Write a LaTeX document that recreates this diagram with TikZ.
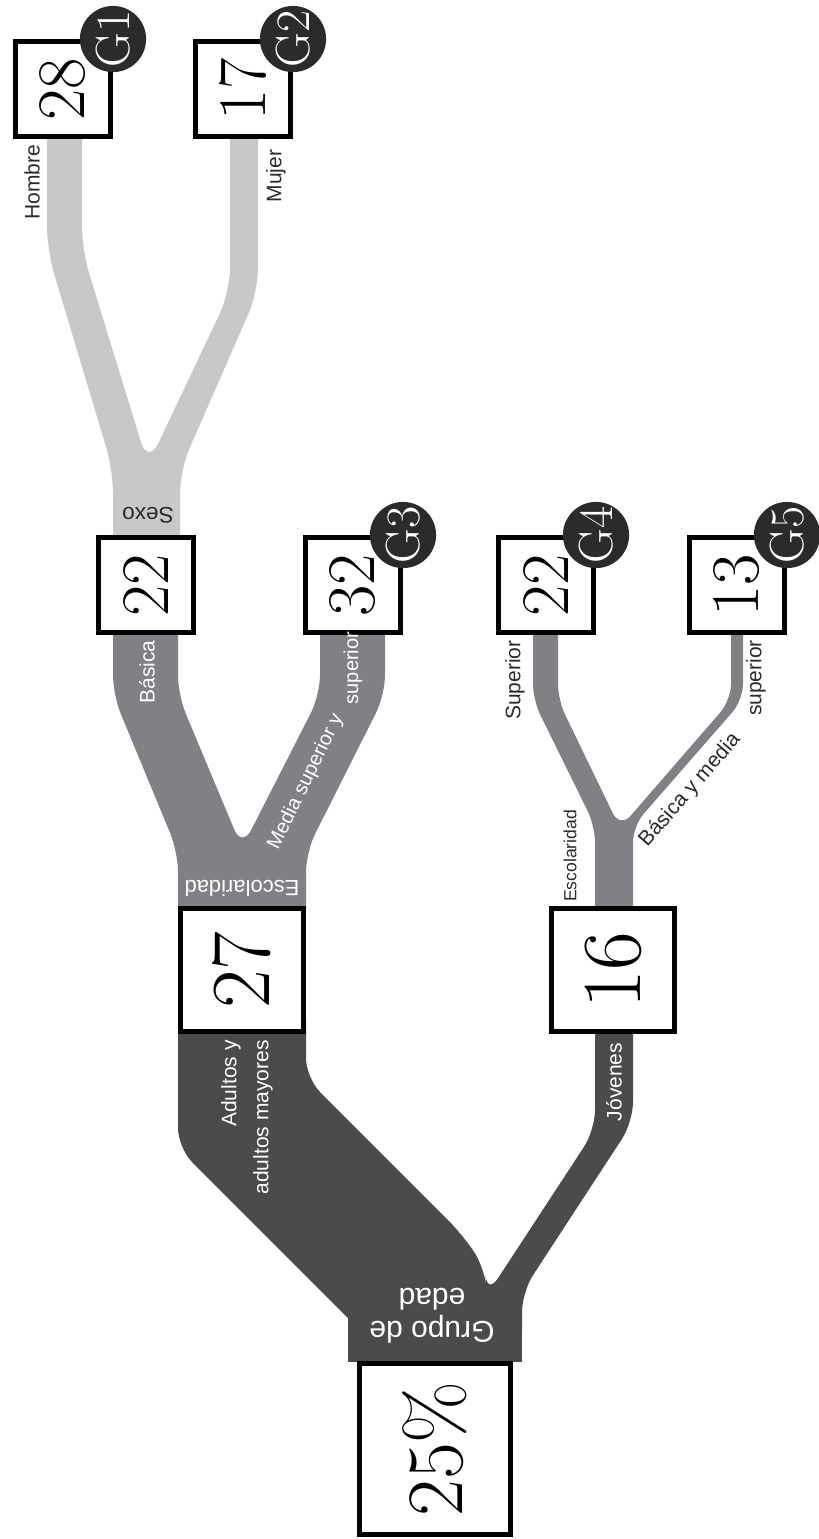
\documentclass[tikz,border=0pt]{standalone}
\usepackage{fontspec}
\usepackage{graphicx}
\newfontfamily\labelfont{Liberation Sans}
\definecolor{flowdk}{HTML}{4A4B4D}
\definecolor{flowmd}{HTML}{808184}
\definecolor{flowlt}{HTML}{C6C8CA}
\definecolor{gtagc}{HTML}{2B2A2C}
\definecolor{labk}{HTML}{2A2A2A}
\newcommand{\vnum}[1]{\rotatebox{90}{#1}}
\tikzset{
  numbox/.style={draw=black, line width=2.5pt, fill=white, inner sep=0pt,
    minimum size=47.5pt, font=\fontsize{34}{34}\selectfont},
  bigbox/.style={numbox, minimum size=61.5pt, font=\fontsize{42}{42}\selectfont},
  rootbox/.style={numbox, minimum width=75.5pt, minimum height=85.5pt,
    font=\fontsize{40}{40}\selectfont},
  gtag/.style={circle, fill=gtagc, text=white, inner sep=0pt, minimum size=33pt,
    font=\fontsize{24}{24}\selectfont},
  lab/.style={inner sep=0pt, text=labk, font=\labelfont\fontsize{10.5}{16}\selectfont},
  labw/.style={lab, text=white}
}

\begin{document}
\begin{tikzpicture}[x=0.5pt, y=-0.5pt]
  \useasboundingbox (0,0) rectangle (819,1539);

  % flows (y grows downwards)
  \fill[flowlt, rounded corners=12pt] (113,560) -- (113,470) -- (47,250) -- (47,100)
    -- (82,100) -- (82,250) -- (148,465) -- (230,292) -- (230,100) -- (258,100)
    -- (258,292) -- (180,470) -- (180,560) -- cycle;
  \fill[flowmd, rounded corners=10pt] (178,930) -- (178,852) -- (113,695) -- (113,600)
    -- (178,600) -- (178,695) -- (242,848) -- (320,695) -- (320,600) -- (385,600)
    -- (385,695) -- (306,852) -- (306,930) -- cycle;
  \fill[flowmd, rounded corners=8pt] (595,940) -- (595,826) -- (533,700) -- (533,600)
    -- (558,600) -- (558,700) -- (620,828) -- (731,700) -- (731,600) -- (743,600)
    -- (743,700) -- (633,826) -- (633,940) -- cycle;
  \fill[flowdk] (348,1297) rectangle (522,1362);
  \fill[flowdk, rounded corners=10pt] (380,1350) -- (178,1148) -- (178,1000)
    -- (306,1000) -- (306,1078) -- (462,1234) -- (485,1268) -- (487,1295)
    -- (595,1130) -- (595,1000) -- (633,1000) -- (633,1122) -- (522,1292)
    -- (522,1350) -- cycle;

  % boxes
  \node[numbox] (b28) at (63,89) {\vnum{28}};
  \node[numbox] (b17) at (243,89) {\vnum{17}};
  \node[numbox] (b22a) at (146,585) {\vnum{22}};
  \node[numbox] (b32) at (353,585) {\vnum{32}};
  \node[numbox] (b22b) at (546,585) {\vnum{22}};
  \node[numbox] (b13) at (737,585) {\vnum{13}};
  \node[bigbox] (b27) at (242,970) {\vnum{27}};
  \node[bigbox] (b16) at (613,970) {\vnum{16}};
  \node[rootbox] (b25) at (435,1449) {\vnum{25\%}};

  \node[gtag] (g1) at (b28.north east) {\vnum{G1}};
  \node[gtag] (g2) at (b17.north east) {\vnum{G2}};
  \node[gtag] (g3) at (b32.north east) {\vnum{G3}};
  \node[gtag] (g4) at (b22b.north east) {\vnum{G4}};
  \node[gtag] (g5) at (b13.north east) {\vnum{G5}};

  % labels
  \node[lab, rotate=90] (hombre) at (32,182) {Hombre};
  \node[lab, rotate=90] (mujer) at (276,176) {Mujer};
  \node[lab, rotate=180, font=\labelfont\fontsize{11.3}{13}\selectfont] (sexo) at (148,515) {Sexo};
  \node[labw, rotate=90] (basica) at (147,672) {Básica};
  \node[labw, rotate=64, font=\labelfont\fontsize{10}{12}\selectfont] (media) at (306,782) {Media superior y};
  \node[labw, rotate=90, font=\labelfont\fontsize{10}{12}\selectfont] (mediasup) at (353,668) {superior};
  \node[labw, rotate=180, font=\labelfont\fontsize{11}{13}\selectfont] (esc1) at (242,888) {Escolaridad};
  \node[lab, rotate=90, font=\labelfont\fontsize{8.8}{10}\selectfont] (esc2) at (570,856) {Escolaridad};
  \node[lab, rotate=90] (superior) at (515,680) {Superior};
  \node[lab, rotate=49] (basmed) at (690,790) {Básica y media};
  \node[lab, rotate=90] (basmedsup) at (756,678) {superior};
  \node[labw, rotate=90, anchor=east, align=right] (adultos) at (247,1040) {Adultos y\\adultos mayores};
  \node[labw, rotate=90] (jovenes) at (614,1082) {Jóvenes};
  \node[labw, rotate=180, align=center, font=\labelfont\fontsize{15}{16.5}\selectfont] (grupo) at (432,1316) {Grupo de\\edad};
\end{tikzpicture}
\end{document}
